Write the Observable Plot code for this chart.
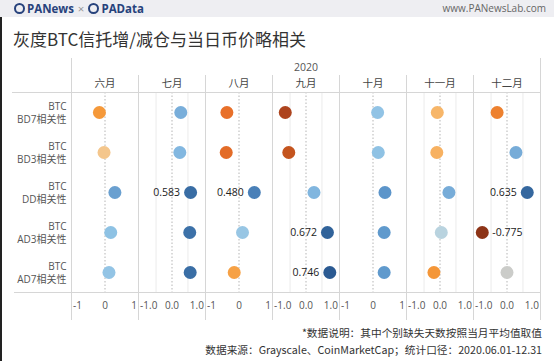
<!DOCTYPE html>
<html><head><meta charset="utf-8">
<script src="https://cdn.jsdelivr.net/npm/d3@7"></script>
<script src="https://cdn.jsdelivr.net/npm/@observablehq/plot@0.6"></script>
<style>
html,body{margin:0;padding:0;background:#fff;}
body{width:554px;height:361px;position:relative;overflow:hidden;font-family:"Open Sans","Noto Sans CJK SC",sans-serif;}
#topbar{position:absolute;left:0;top:0;width:554px;height:17px;background:#eeeef2;}
#brand{position:absolute;left:14px;top:1px;font-size:11.5px;line-height:15px;font-weight:700;color:#27427c;white-space:nowrap;}
#brand .ring{display:inline-block;width:7px;height:7px;border:2px solid #27427c;border-radius:50%;margin-right:2px;vertical-align:-1px;}
#brand .x{font-weight:400;color:#999;margin:0 4px;}
#site{position:absolute;right:8px;top:2px;font-size:10px;line-height:13px;color:#666;}
#leftedge{position:absolute;left:0;top:17px;width:2px;height:344px;background:#222;}
#title{position:absolute;left:13px;top:27px;font-size:17px;line-height:24px;color:#333;font-family:"Noto Sans CJK SC",sans-serif;white-space:nowrap;}
#chart{position:absolute;left:0;top:55px;}
.note{position:absolute;right:12px;font-size:10.7px;line-height:14px;color:#333;white-space:nowrap;font-family:"Noto Sans CJK SC",sans-serif;}
</style>
</head><body>
<div id="topbar"></div>
<div id="brand"><span class="ring"></span>PANews<span class="x">×</span><span class="ring"></span>PAData</div>
<div id="site">www.PANewsLab.com</div>
<div id="leftedge"></div>
<div id="title">灰度BTC信托增/减仓与当日币价略相关</div>
<div id="chart"></div>
<div class="note" style="top:326px;">*数据说明：其中个别缺失天数按照当月平均值取值</div>
<div class="note" style="top:343px;">数据来源：Grayscale、CoinMarketCap；统计口径：2020.06.01-12.31</div>
<script>
// ---- data ----
const year = "2020";
const months = ["六月","七月","八月","九月","十月","十一月","十二月"];
const metrics = ["BD7","BD3","DD","AD3","AD7"];
const bd7 = [-0.175, 0.275, -0.38, -0.65, 0.145, -0.085, -0.31];
const bd3 = [-0.03, 0.245, -0.40, -0.54, 0.165, -0.10, 0.28];
const dd  = [0.31, 0.583, 0.480, 0.25, 0.375, 0.28, 0.635];
const ad3 = [0.18, 0.556, 0.11, 0.672, 0.35, 0.04, -0.775];
const ad7 = [0.125, 0.57, -0.15, 0.746, 0.35, -0.19, 0.0];
const labelledMonths  = ["七月","八月","九月","九月","十二月","十二月"];
const labelledMetrics = ["DD","DD","AD3","AD7","DD","AD3"];
const tickValues = [-1, 0, 1];
const intTickLabels = ["-1","0","1"];
const decTickLabels = ["-1.0","0.0","1.0"];
const tickStyle = ["int","dec","int","dec","int","dec","dec"];
const halfGridMonths = ["七月","九月","十一月","十二月"];
const halfGridValues = [-0.5, 0.5];

// ---- tables ----
const series = {BD7: bd7, BD3: bd3, DD: dd, AD3: ad3, AD7: ad7};
const data = metrics.flatMap(m => months.map((mo, i) => ({metric: m, month: mo, value: series[m][i]})));
const labelRows = data.filter(d => labelledMonths.some((mo, i) => mo === d.month && labelledMetrics[i] === d.metric));
const ticks = months.flatMap((mo, i) => tickValues.map((v, j) => ({month: mo, v, label: (tickStyle[i] === "int" ? intTickLabels : decTickLabels)[j]})));
const half = halfGridMonths.flatMap(mo => halfGridValues.map(v => ({month: mo, v})));

const font = "'Open Sans','Noto Sans CJK SC',sans-serif";
const chart = Plot.plot({
  width: 554, height: 265,
  marginTop: 37, marginBottom: 28, marginLeft: 69, marginRight: 12,
  style: {background: "transparent", fontFamily: font, overflow: "visible"},
  fx: {domain: months, padding: 0, axis: null},
  x: {domain: [-1.05, 1.05], axis: null},
  y: {type: "point", domain: metrics, padding: 0.5, axis: null},
  color: {
    type: "linear", interpolate: "rgb", clamp: true,
    domain: [-0.78, -0.62, -0.5, -0.38, -0.3, -0.17, -0.09, -0.03, 0, 0.04, 0.12, 0.2, 0.26, 0.31, 0.36, 0.48, 0.57, 0.75],
    range: ["#8c3317","#b4481f","#cc5a1e","#e8702a","#ee8330","#f59a3a","#f7b466","#f4c68c","#cbccc9","#b9d3df","#93c4e5","#8cc1e4","#7fb4de","#6aa0d0","#5e98cc","#4a80b8","#3a6ea5","#2b5a92"]
  },
  marks: [
    Plot.ruleX(half, {fx: "month", x: "v", stroke: "#ebebeb"}),
    Plot.ruleX(months, {fx: d => d, x: () => 0, stroke: "#b5b5b5", strokeDasharray: "1.5,2"}),
    Plot.ruleX(months, {fx: d => d, x: () => -1.05, stroke: "#d6d6d6", insetTop: -17, insetBottom: -28}),
    Plot.ruleX([months[0]], {fx: d => d, x: () => -1.05, stroke: "#d6d6d6", insetTop: -34, insetBottom: -28}),
    Plot.ruleX([months[months.length - 1]], {fx: d => d, x: () => 1.05, stroke: "#d6d6d6", insetTop: -34, insetBottom: -28}),
    Plot.frame({anchor: "top", stroke: "#d6d6d6"}),
    Plot.frame({anchor: "bottom", stroke: "#d6d6d6"}),
    Plot.ruleY([metrics[0]], {fx: () => months[0], y: d => d, dy: -20, insetLeft: -59, stroke: "#d6d6d6"}),
    Plot.ruleY([metrics[metrics.length - 1]], {fx: () => months[0], y: d => d, dy: 20, insetLeft: -57, stroke: "#d6d6d6"}),
    Plot.dot(data, {fx: "month", x: "value", y: "metric", r: 6.5, fill: "value"}),
    Plot.text(labelRows.filter(d => d.value > 0), {fx: "month", x: "value", y: "metric", text: d => d.value.toFixed(3), textAnchor: "end", dx: -10.5, fontSize: 10.5, fill: "#222"}),
    Plot.text(labelRows.filter(d => d.value < 0), {fx: "month", x: "value", y: "metric", text: d => d.value.toFixed(3), textAnchor: "start", dx: 10, fontSize: 10.5, fill: "#222"}),
    Plot.text(ticks.filter(d => d.v < 0), {fx: "month", x: "v", text: "label", frameAnchor: "bottom", lineAnchor: "middle", dy: 13.7, textAnchor: "start", fontSize: 10, fill: "#555"}),
    Plot.text(ticks.filter(d => d.v === 0), {fx: "month", x: "v", text: "label", frameAnchor: "bottom", lineAnchor: "middle", dy: 13.7, textAnchor: "middle", fontSize: 10, fill: "#555"}),
    Plot.text(ticks.filter(d => d.v > 0), {fx: "month", x: "v", text: "label", frameAnchor: "bottom", lineAnchor: "middle", dy: 13.7, textAnchor: "end", fontSize: 10, fill: "#555"}),
    Plot.text(months, {fx: d => d, text: d => d, frameAnchor: "top", lineAnchor: "middle", dy: -9, fontSize: 10.5, fill: "#444"}),
    Plot.text([year], {fx: () => months[3], text: d => d, frameAnchor: "top", lineAnchor: "middle", dy: -25, fontSize: 10.5, fill: "#555"}),
    Plot.text(metrics, {fx: () => months[0], y: d => d, text: d => `BTC\n${d}相关性`, frameAnchor: "left", textAnchor: "end", dx: -5, lineHeight: 1.3, fontSize: 10, fill: "#555"})
  ]
});
document.getElementById("chart").appendChild(chart);
</script>
</body></html>
